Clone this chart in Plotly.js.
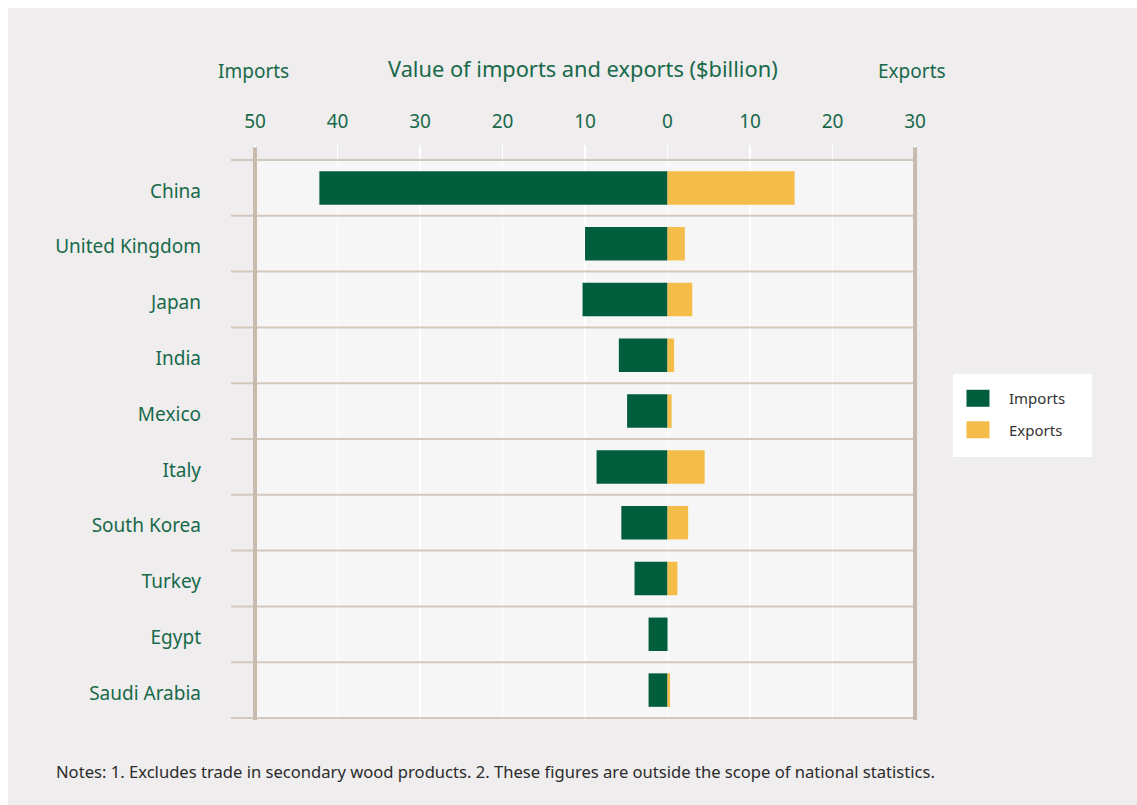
<!DOCTYPE html>
<html>
<head>
<meta charset="utf-8">
<script src="https://cdn.plot.ly/plotly-3.0.1.min.js"></script>
<style>
  html, body { margin: 0; padding: 0; background: #ffffff; }
  #chart { position: absolute; left: 8px; top: 8px; width: 1129px; height: 797px; }
</style>
</head>
<body>
<div id="chart"></div>
<script>
// ---- Data ----
const countries = ["China", "United Kingdom", "Japan", "India", "Mexico", "Italy", "South Korea", "Turkey", "Egypt", "Saudi Arabia"];
const imports = [42.2, 10.0, 10.3, 5.9, 4.9, 8.6, 5.6, 4.0, 2.3, 2.3];
const exports = [15.4, 2.1, 3.0, 0.8, 0.5, 4.5, 2.5, 1.2, 0.0, 0.3];
const tickValues = [-50, -40, -30, -20, -10, 0, 10, 20, 30];
const tickLabels = ["50", "40", "30", "20", "10", "0", "10", "20", "30"];

const GREEN = "#005e3d";
const YELLOW = "#f4bd4a";
const TEXT_GREEN = "#18694a";
const FONT = "Noto Sans, Open Sans, sans-serif";

const traces = [
  {
    type: "bar", orientation: "h", name: "Imports",
    y: countries, x: imports.map(v => -v),
    marker: { color: GREEN, line: { width: 0 } },
    width: 0.6, hoverinfo: "skip", legendgroup: "imp"
  },
  {
    type: "bar", orientation: "h", name: "Exports",
    y: countries, x: exports,
    marker: { color: YELLOW, line: { width: 0 } },
    width: 0.6, hoverinfo: "skip", legendgroup: "exp"
  }
];

const shapes = [];
// light plotting background
shapes.push({ type: "rect", layer: "below", xref: "x", yref: "y",
  x0: -50, x1: 30, y0: -0.5, y1: countries.length - 0.5,
  fillcolor: "#f7f6f6", line: { width: 0 } });
// white legend panel
shapes.push({ type: "rect", layer: "below", xref: "paper", yref: "paper",
  x0: 1.0494, x1: 1.2515, y0: 0.4574, y1: 0.6017,
  fillcolor: "#ffffff", line: { width: 0 } });
// row separators
for (let i = 0; i <= countries.length; i++) {
  shapes.push({ type: "line", layer: "above", xref: "x", yref: "y",
    x0: -54, x1: 30, y0: i - 0.5, y1: i - 0.5,
    line: { color: "#d3c8bd", width: 2 } });
}
// thick side lines
[-50, 30].forEach(v => shapes.push({ type: "line", layer: "above", xref: "x", yref: "paper",
  x0: v, x1: v, y0: 0, y1: 0.996, line: { color: "#c8bbae", width: 4 } }));

const layout = {
  width: 1129, height: 797,
  paper_bgcolor: "#efeded", plot_bgcolor: "rgba(0,0,0,0)",
  margin: { l: 223, r: 218, t: 137, b: 85 },
  font: { family: FONT, color: TEXT_GREEN },
  barmode: "relative",
  bargap: 0.4,
  showlegend: true,
  legend: {
    x: 1.0494, y: 0.5878, xanchor: "left", yanchor: "top",
    bgcolor: "rgba(0,0,0,0)", borderwidth: 0,
    font: { family: FONT, size: 15, color: "#333333" },
    itemwidth: 46, tracegroupgap: 9, traceorder: "grouped"
  },
  xaxis: {
    side: "top", range: [-52.91, 30.48], fixedrange: true,
    tickmode: "array", tickvals: tickValues, ticktext: tickLabels,
    tickfont: { family: FONT, size: 19, color: TEXT_GREEN },
    ticks: "", ticklabelstandoff: 12,
    showgrid: true, gridcolor: "#ffffff", gridwidth: 1.5,
    zeroline: false, showline: false
  },
  yaxis: {
    type: "category", categoryorder: "array", categoryarray: countries,
    range: [9.536, -0.769], fixedrange: true,
    tickfont: { family: FONT, size: 19, color: TEXT_GREEN },
    ticks: "", ticklabelstandoff: 29, ticklabelshift: -3,
    showgrid: false, zeroline: false, showline: false
  },
  shapes: shapes,
  annotations: [
    { text: "Imports", xref: "paper", yref: "paper", x: 0.0334, y: 1.1287,
      xanchor: "center", yanchor: "middle", showarrow: false,
      font: { family: FONT, size: 19, color: TEXT_GREEN } },
    { text: "Value of imports and exports ($billion)", xref: "paper", yref: "paper", x: 0.5116, y: 1.1339,
      xanchor: "center", yanchor: "middle", showarrow: false,
      font: { family: FONT, size: 21.8, color: TEXT_GREEN } },
    { text: "Exports", xref: "paper", yref: "paper", x: 0.9898, y: 1.1287,
      xanchor: "center", yanchor: "middle", showarrow: false,
      font: { family: FONT, size: 19, color: TEXT_GREEN } },
    { text: "Notes: 1. Excludes trade in secondary wood products. 2. These figures are outside the scope of national statistics.",
      xref: "paper", yref: "paper", x: -0.2573, y: -0.0904,
      xanchor: "left", yanchor: "middle", showarrow: false,
      font: { family: FONT, size: 16.6, color: "#2b2b2b" } }
  ]
};

Plotly.newPlot("chart", traces, layout, { displayModeBar: false, staticPlot: true }).then(gd => {
  // enlarge legend swatches to the wider rectangles of the original
  gd.querySelectorAll(".legend .legendpoints path").forEach(p => {
    p.setAttribute("d", "M8.5,8.5H-14.5V-8.5H8.5Z");
  });
});
</script>
</body>
</html>
